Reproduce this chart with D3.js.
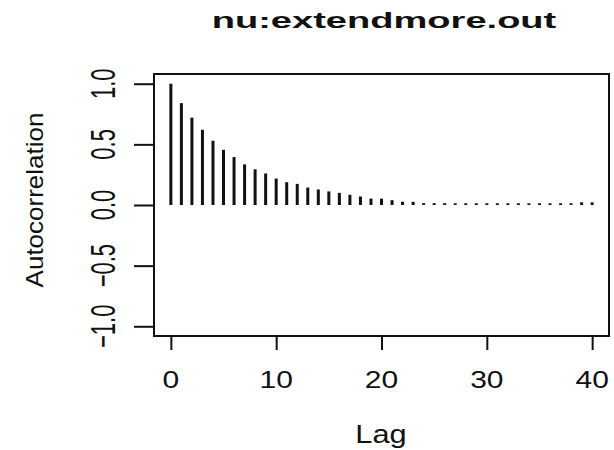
<!DOCTYPE html>
<html>
<head>
<meta charset="utf-8">
<script src="https://cdn.jsdelivr.net/npm/d3@7"></script>
<style>
  body { margin: 0; background: #fff; }
  svg text { font-family: "Liberation Sans", Arial, sans-serif; fill: #111; }
</style>
</head>
<body>
<svg width="614" height="450"></svg>
<script>
"use strict";

// acf values, lag 0..40
var lags = d3.range(0, 41);
var acf = [1.0, 0.84, 0.72, 0.62, 0.53, 0.455, 0.395, 0.335, 0.294, 0.26,
           0.218, 0.188, 0.174, 0.144, 0.128, 0.112, 0.10, 0.084, 0.07, 0.053,
           0.052, 0.04, 0.027, 0.026, 0.015, 0.015, 0.015, 0.014, 0.014, 0.014,
           0.014, 0.014, 0.014, 0.014, 0.014, 0.014, 0.014, 0.014, 0.014, 0.022,
           0.022];
var xTicks = [0, 10, 20, 30, 40];
var yTicks = [-1.0, -0.5, 0.0, 0.5, 1.0];
var title = "nu:extendmore.out";
var xLabel = "Lag";
var yLabel = "Autocorrelation";

var svg = d3.select("svg");

// plot box
const box = {left: 154, right: 609, top: 74, bottom: 336};

// R style 4% padding on both axes
var x = d3.scaleLinear().domain([-1.6, 41.6]).range([box.left, box.right]);
var y = d3.scaleLinear().domain([-1.08, 1.08]).range([box.bottom, box.top]);

// text helper, the picture is stretched sideways so text gets a x scale
function label(txt, px, py, size, sx, rot, bold) {
    var t = svg.append("text")
        .attr("transform", "translate(" + px + "," + py + ") scale(" + sx + ",1)" + (rot ? " rotate(-90)" : ""))
        .attr("text-anchor", "middle")
        .style("font-size", size + "px")
        .text(txt);
    if (bold) t.style("font-weight", "bold");
    return t;
}

// bars
svg.append("g").selectAll("line.bar")
    .data(lags)
    .join("line")
    .attr("class", "bar")
    .attr("x1", d => x(d)).attr("x2", d => x(d))
    .attr("y1", y(0)).attr("y2", d => y(acf[d]))
    .attr("stroke", "#111")
    .attr("stroke-width", 3);

// box
svg.append("rect")
    .attr("x", box.left).attr("y", box.top)
    .attr("width", box.right - box.left).attr("height", box.bottom - box.top)
    .attr("fill", "none").attr("stroke", "#111").attr("stroke-width", 2);

// x axis, no axis line, only ticks hanging under the box
var xAxis = d3.axisBottom(x).tickValues(xTicks).tickSize(14).tickFormat("");
var gx = svg.append("g").attr("transform", "translate(0," + box.bottom + ")").call(xAxis);
gx.select(".domain").remove();
gx.selectAll(".tick line").attr("stroke", "#111").attr("stroke-width", 2);
xTicks.forEach(function(v){ label(d3.format("d")(v), x(v), 388, 24, 1.25, false); });

// y axis
var yAxis = d3.axisLeft(y).tickValues(yTicks).tickSize(20).tickFormat("");
var gy = svg.append("g").attr("transform", "translate(" + box.left + ",0)").call(yAxis);
gy.select(".domain").remove();
gy.selectAll(".tick line").attr("stroke", "#111").attr("stroke-width", 2);
yTicks.forEach(function(v){ label(d3.format(".1f")(v), 115, y(v), 22, 1.6, true); });

// titles
label(title, 384, 28, 22, 1.73, false, true);
label(xLabel, 381, 443, 25, 1.23, false);
label(yLabel, 43, 200, 26, 0.95, true);
</script>
</body>
</html>
